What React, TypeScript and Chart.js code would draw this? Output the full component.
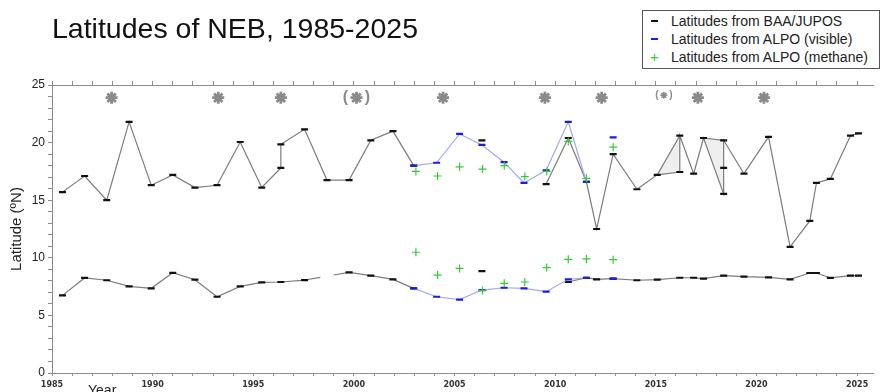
import React, { useEffect, useRef } from 'react';
import { Chart, registerables } from 'chart.js';
Chart.register(...registerables);

// ---------------- data ----------------
const titleText = 'Latitudes of NEB, 1985-2025';
const yAxisTitle = 'Latitude (ºN)';
const xAxisTitle = 'Year';
const legendLabels = ['Latitudes from BAA/JUPOS', 'Latitudes from ALPO (visible)', 'Latitudes from ALPO (methane)'];

// NEB north edge, BAA/JUPOS (drawing order; null = break in line)
const northJuposYears = [1985.52, 1986.62, 1987.72, 1988.83, 1989.93, 1991.0, 1992.1, 1993.2, 1994.35, 1995.42, 1996.37, 1996.37, 1997.55, 1998.66, 1999.76, 2000.84, 2001.94, 2002.97, 2004.5, 2006.36, 2008.0, 2009.55, 2010.65, 2011.55, 2012.06, 2012.88, 2014.06, 2015.07, 2016.19, 2016.19, 2016.88, 2017.37, 2018.37, 2018.37, 2018.37, 2019.38, 2020.6, 2021.67, 2022.65, 2022.98, 2023.67, 2024.67, 2025.07];
const northJuposLat: (number | null)[] = [15.7, 17.1, 15.0, 21.8, 16.3, 17.2, 16.1, 16.3, 20.05, 16.1, 17.8, 19.85, 21.15, 16.75, 16.75, 20.2, 21.0, 18.0, null, 20.2, null, 16.4, 20.4, 16.6, 12.5, 19.0, 15.95, 17.2, 17.45, 20.6, 17.3, 20.4, 15.55, 17.8, 20.2, 17.3, 20.5, 10.95, 13.2, 16.5, 16.85, 20.6, 20.8];

// NEB south edge, BAA/JUPOS
const southJuposYears = [1985.52, 1986.62, 1987.72, 1988.83, 1989.93, 1991.0, 1992.1, 1993.2, 1994.35, 1995.42, 1996.37, 1997.55, 1999.76, 2000.84, 2001.94, 2002.97, 2004.5, 2006.36, 2008.0, 2010.65, 2011.55, 2012.06, 2012.88, 2014.06, 2015.07, 2016.19, 2016.88, 2017.37, 2018.37, 2019.38, 2020.6, 2021.67, 2022.65, 2022.98, 2023.67, 2024.67, 2025.07];
const southJuposLat: (number | null)[] = [6.74, 8.25, 8.05, 7.52, 7.35, 8.7, 8.1, 6.62, 7.52, 7.87, 7.9, 8.07, 8.74, 8.45, 8.13, 7.35, null, 8.85, null, 7.9, 8.27, 8.13, 8.2, 8.05, 8.1, 8.27, 8.27, 8.2, 8.45, 8.36, 8.3, 8.13, 8.68, 8.68, 8.25, 8.45, 8.45];

// ALPO visible
const alpoVisYears = [2002.97, 2004.11, 2005.25, 2006.36, 2007.46, 2008.45, 2009.55, 2010.65, 2011.55, 2012.2, 2012.88];
const alpoVisNorthLat: (number | null)[] = [18.0, 18.25, 20.75, 19.8, 18.3, 16.5, 17.6, 21.8, 16.6, null, 20.45];
const alpoVisSouthLat: (number | null)[] = [7.35, 6.62, 6.37, 7.2, 7.4, 7.35, 7.06, 8.13, 8.27, null, 8.2];

// ALPO methane
const methaneYears = [2003.08, 2004.16, 2005.25, 2006.39, 2007.47, 2008.49, 2009.58, 2010.65, 2011.55, 2012.88];
const methaneNorthLat = [17.5, 17.1, 17.9, 17.7, 18.0, 17.05, 17.5, 20.1, 16.9, 19.6];
const methaneSouthLat = [10.48, 8.5, 9.08, 7.17, 7.78, 7.9, 9.15, 9.87, 9.9, 9.84];

// shaded bands (upper / lower edges)
const band1Years = [2015.07, 2016.19];
const band1Upper = [17.2, 20.6];
const band1Lower = [17.2, 17.45];
const band2Years = [2017.37, 2018.37];
const band2Upper = [20.4, 20.2];
const band2Lower = [20.4, 15.55];

// event markers (asterisks)
const eventYears = [1987.96, 1993.26, 1996.37, 2000.13, 2004.43, 2009.49, 2012.31, 2015.4, 2017.09, 2020.37];
const eventLat = [23.9, 23.9, 23.9, 23.9, 23.9, 23.9, 23.9, 24.1, 23.9, 23.9];
const eventBracketed = [false, false, false, true, false, false, false, true, false, false];
const eventSmall = [false, false, false, false, false, false, false, true, false, false];

const X_MIN = 1985;
const X_MAX = 2025.8;
const xLabelEvery = 5;
const yLabelEvery = 5;

// --------------- styles ---------------
const GREY = '#7c7c7c';
const AXIS = '#8c8c8c';
const BLUE_LINE = '#a3a8f0';
const BLUE = '#1c1ce8';
const GREEN = '#33cc33';
const BLACK = '#111111';
const STAR = '#8a8a8a';

const pts = (xs: number[], ys: (number | null)[]) => xs.map((x, i) => ({ x, y: ys[i] }));

const extraTextPlugin = {
  id: 'extraText',
  afterDatasetsDraw(chart: any) {
    const { ctx, scales, chartArea } = chart;
    const x = scales.x;
    const y = scales.y;
    ctx.save();
    ctx.fillStyle = STAR;
    ctx.textAlign = 'center';
    ctx.textBaseline = 'middle';
    eventYears.forEach((yr, i) => {
      if (!eventBracketed[i]) return;
      const px = x.getPixelForValue(yr);
      const py = y.getPixelForValue(eventLat[i]);
      const small = eventSmall[i];
      ctx.font = `bold ${small ? 10 : 16}px "Liberation Sans"`;
      const d = small ? 7 : 11;
      ctx.fillText('(', px - d, py);
      ctx.fillText(')', px + d, py);
    });
    ctx.fillStyle = '#222';
    ctx.textAlign = 'left';
    ctx.textBaseline = 'alphabetic';
    ctx.font = '14px "Liberation Sans"';
    ctx.fillText(xAxisTitle, chartArea.left + 36, chartArea.bottom + 22);
    ctx.restore();
  },
};

export default function App() {
  const ref = useRef<HTMLCanvasElement | null>(null);
  useEffect(() => {
    if (!ref.current) return;
    const lineMarker = (color: string) => ({
      pointStyle: 'line' as const,
      pointRadius: 3.5,
      pointBorderWidth: 2.2,
      pointBorderColor: color,
      pointBackgroundColor: color,
    });
    const chart = new Chart(ref.current, {
      type: 'line',
      data: {
        datasets: [
          {
            label: 'events',
            data: pts(eventYears, eventLat),
            showLine: false,
            pointStyle: 'star',
            pointRadius: eventSmall.map((s) => (s ? 3.5 : 6)),
            pointBorderWidth: eventSmall.map((s) => (s ? 1.5 : 2.8)),
            pointBorderColor: STAR,
            pointBackgroundColor: STAR,
            order: 1,
          } as any,
          {
            label: legendLabels[2],
            data: pts(methaneYears, methaneNorthLat),
            showLine: false,
            pointStyle: 'cross',
            pointRadius: 4,
            pointBorderWidth: 1.2,
            pointBorderColor: GREEN,
            order: 2,
          },
          {
            label: legendLabels[2] + ' S',
            data: pts(methaneYears, methaneSouthLat),
            showLine: false,
            pointStyle: 'cross',
            pointRadius: 4,
            pointBorderWidth: 1.2,
            pointBorderColor: GREEN,
            order: 2,
          },
          {
            label: legendLabels[1],
            data: pts(alpoVisYears, alpoVisNorthLat),
            borderColor: BLUE_LINE,
            borderWidth: 1.2,
            ...lineMarker(BLUE),
            order: 3,
          },
          {
            label: legendLabels[1] + ' S',
            data: pts(alpoVisYears, alpoVisSouthLat),
            borderColor: BLUE_LINE,
            borderWidth: 1.2,
            ...lineMarker(BLUE),
            order: 3,
          },
          {
            label: legendLabels[0],
            data: pts(northJuposYears, northJuposLat),
            borderColor: GREY,
            borderWidth: 1.2,
            ...lineMarker(BLACK),
            order: 5,
          },
          {
            label: legendLabels[0] + ' S',
            data: pts(southJuposYears, southJuposLat),
            borderColor: GREY,
            borderWidth: 1.2,
            ...lineMarker(BLACK),
            segment: {
              borderDash: (c: any) =>
                c.p0.parsed.x === 1997.55 && c.p1.parsed.x === 1999.76 ? [16, 13.5] : undefined,
            },
            order: 5,
          } as any,
          {
            label: 'band1',
            data: pts(band1Years, band1Upper),
            borderColor: GREY,
            borderWidth: 1.2,
            backgroundColor: '#efefef',
            pointRadius: 0,
            fill: '+1',
            order: 8,
          },
          {
            label: 'band1b',
            data: pts(band1Years, band1Lower),
            borderWidth: 0,
            borderColor: 'rgba(0,0,0,0)',
            pointRadius: 0,
            order: 9,
          },
          {
            label: 'band2',
            data: pts(band2Years, band2Upper),
            borderColor: GREY,
            borderWidth: 1.2,
            backgroundColor: '#efefef',
            pointRadius: 0,
            fill: '+1',
            order: 8,
          },
          {
            label: 'band2b',
            data: pts(band2Years, band2Lower),
            borderWidth: 0,
            borderColor: 'rgba(0,0,0,0)',
            pointRadius: 0,
            order: 9,
          },
        ],
      },
      options: {
        responsive: false,
        animation: false,
        events: [],
        spanGaps: false,
        layout: { padding: 0 },
        plugins: {
          legend: { display: false },
          tooltip: { enabled: false },
          title: {
            display: true,
            text: titleText,
            align: 'start',
            fullSize: false,
            color: '#111',
            font: { size: 28.5, family: '"Liberation Sans", Arial, sans-serif', weight: 'normal', lineHeight: 1.2 },
            padding: { top: 13, bottom: 0 },
          },
        },
        scales: {
          x: {
            type: 'linear',
            position: 'bottom',
            min: X_MIN,
            max: X_MAX,
            afterFit: (s: any) => {
              s.height = 19;
            },
            border: { display: true, color: AXIS, width: 1 },
            grid: { drawOnChartArea: false, drawTicks: true, tickLength: 3, color: AXIS },
            ticks: {
              stepSize: 1,
              autoSkip: false,
              includeBounds: false,
              maxRotation: 0,
              padding: 4,
              color: '#333',
              font: { size: 8, family: '"DejaVu Sans", sans-serif', weight: 'bold' },
              callback: (v: any) => (Number(v) % xLabelEvery === 0 ? String(v) : ''),
            },
          },
          x2: {
            type: 'linear',
            position: 'top',
            min: X_MIN,
            max: X_MAX,
            afterFit: (s: any) => {
              s.height = 37.8;
            },
            border: { display: true, color: AXIS, width: 1 },
            grid: { drawOnChartArea: false, drawTicks: true, tickLength: 4, color: AXIS },
            ticks: { stepSize: 1, autoSkip: false, includeBounds: false, display: false },
          },
          y: {
            type: 'linear',
            min: 0,
            max: 25,
            afterFit: (s: any) => {
              s.width = 52;
            },
            border: { display: true, color: AXIS, width: 1 },
            grid: { drawOnChartArea: false, drawTicks: true, tickLength: 4, color: AXIS },
            title: {
              display: true,
              text: yAxisTitle,
              color: '#222',
              font: { size: 15, family: '"Liberation Sans", Arial, sans-serif', lineHeight: 1.2 },
              padding: { top: 8, bottom: 0 },
            },
            ticks: {
              stepSize: 1,
              autoSkip: false,
              padding: 3,
              color: '#222',
              font: { size: 12, family: '"Liberation Sans", Arial, sans-serif' },
              callback: (v: any) => (Number(v) % yLabelEvery === 0 ? String(v) : ''),
            },
          },
        },
      } as any,
      plugins: [extraTextPlugin],
    });
    return () => chart.destroy();
  }, []);

  const rowStyle = (i: number): React.CSSProperties => ({
    position: 'absolute',
    left: 0,
    top: i * 18.3 + 0.6,
    height: 18.3,
    lineHeight: '18.3px',
    width: '100%',
    whiteSpace: 'nowrap',
  });
  const dash = (color: string): React.CSSProperties => ({
    position: 'absolute',
    left: 8,
    top: 8,
    width: 7,
    height: 2.2,
    background: color,
  });

  return (
    <div
      style={{
        position: 'fixed',
        left: 0,
        top: 0,
        width: 882,
        height: 392,
        overflow: 'hidden',
        background: '#fff',
      }}
    >
      <canvas ref={ref} width={882} height={392} style={{ display: 'block' }} />
      <div
        style={{
          position: 'absolute',
          left: 642,
          top: 10,
          width: 238,
          height: 59,
          boxSizing: 'border-box',
          border: '1px solid #555',
          background: '#fff',
          fontFamily: '"Liberation Sans", Arial, sans-serif',
          fontSize: 14,
          color: '#222',
        }}
      >
        <div style={rowStyle(0)}>
          <span style={dash(BLACK)} />
          <span style={{ position: 'absolute', left: 28 }}>{legendLabels[0]}</span>
        </div>
        <div style={rowStyle(1)}>
          <span style={dash(BLUE)} />
          <span style={{ position: 'absolute', left: 28 }}>{legendLabels[1]}</span>
        </div>
        <div style={rowStyle(2)}>
          <span style={{ position: 'absolute', left: 7, color: GREEN, fontSize: 15 }}>+</span>
          <span style={{ position: 'absolute', left: 28 }}>{legendLabels[2]}</span>
        </div>
      </div>
    </div>
  );
}
